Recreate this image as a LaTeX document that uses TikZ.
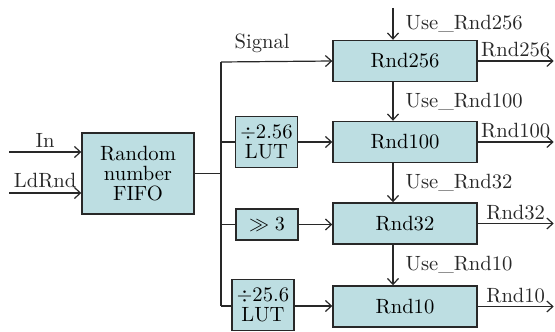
\documentclass[tikz,border=0pt]{standalone}
\usepackage{tikz}
\usetikzlibrary{arrows.meta, positioning, calc}
\definecolor{boxcolor}{RGB}{189, 222, 226}
\definecolor{linecolor}{RGB}{40, 40, 40}
\tikzstyle{regbox} = [
    rectangle,
    minimum width=72pt,
    minimum height=20.5pt,
    text centered,
    draw=linecolor,
    line width=0.7pt,
    fill=boxcolor,
    inner sep=1pt
]
\tikzstyle{opbox} = [
    rectangle,
    minimum width=31pt,
    minimum height=25.5pt,
    align=center,
    draw=linecolor,
    line width=0.7pt,
    fill=boxcolor,
    inner sep=1pt
]
\tikzstyle{arrow} = [
    -{Straight Barb[length=3pt,width=5.5pt]},
    line width=0.6pt,
    color=linecolor
]
\tikzstyle{wire} = [
    line width=0.6pt,
    color=linecolor
]
\tikzstyle{sig} = [
    font=\fontsize{10.3}{10.3}\selectfont,
    inner sep=1pt
]

\begin{document}
\begin{tikzpicture}[x=0.5pt, y=-0.5pt, font=\fontsize{10.3}{10.2}\selectfont]
\useasboundingbox (0,0) rectangle (555,331);

% FIFO and its inputs
\node[opbox, minimum width=56pt, minimum height=40.5pt] (fifo) at (138,173.5) {Random\\number\\FIFO};
\coordinate (inA) at (9,152);
\coordinate (inB) at (9,193);
\draw[arrow] (inA) -- (inA -| fifo.west) node[sig, midway, above=1pt] {In};
\draw[arrow] (inB) -- (inB -| fifo.west) node[sig, midway, above=1pt] {LdRnd};

% Random number registers
\node[regbox] (rnd256) at (405,61) {Rnd256};
\node[regbox] (rnd100) at (405,142) {Rnd100};
\node[regbox] (rnd32) at (405,223.5) {Rnd32};
\node[regbox] (rnd10) at (405,306.5) {Rnd10};

% Conversion boxes
\node[opbox] (lutA) at (266.5,142) {$\div$2.56\\LUT};
\node[opbox, minimum height=15.5pt] (shift) at (267,224.5) {$\gg 3$};
\node[opbox] (lutB) at (263,305) {$\div$25.6\\LUT};

% Bus from the FIFO
\coordinate (busTop) at (221,62);
\coordinate (busBot) at (221,306);
\draw[wire] (fifo.east) -- (fifo.east -| busTop);
\draw[wire] (busTop) -- (busBot);
\draw[arrow] (busTop) -- (rnd256.west) node[sig, pos=0.37, above=3pt] {Signal};
\draw[wire] (busTop |- lutA) -- (lutA.west);
\draw[arrow] (lutA.east) -- (lutA -| rnd100.west);
\draw[wire] (busTop |- shift) -- (shift.west);
\draw[arrow] (shift.east) -- (shift -| rnd32.west);
\draw[wire] (busBot) -- (busBot -| lutB.west);
\draw[arrow] (busBot -| lutB.east) -- (busBot -| rnd10.west);

% Use signals
\coordinate (useTop) at (393,8);
\draw[arrow] (useTop) -- (useTop |- rnd256.north) node[sig, midway, right=5pt] {Use\_Rnd256};
\draw[arrow] ([xshift=-6pt]rnd256.south) -- ([xshift=-6pt]rnd100.north) node[sig, midway, right=5pt] {Use\_Rnd100};
\draw[arrow] ([xshift=-6pt]rnd100.south) -- ([xshift=-6pt]rnd32.north) node[sig, midway, right=5pt] {Use\_Rnd32};
\draw[arrow] ([xshift=-6pt]rnd32.south) -- ([xshift=-6pt]rnd10.north) node[sig, midway, right=5pt] {Use\_Rnd10};

% Outputs
\foreach \r in {256,100,32,10} {
    \coordinate (out\r) at ($(rnd\r.east)+(76,0)$);
    \draw[arrow] (rnd\r.east) -- (out\r) node[sig, midway, above=0.5pt] {Rnd\r};
}

\end{tikzpicture}
\end{document}
